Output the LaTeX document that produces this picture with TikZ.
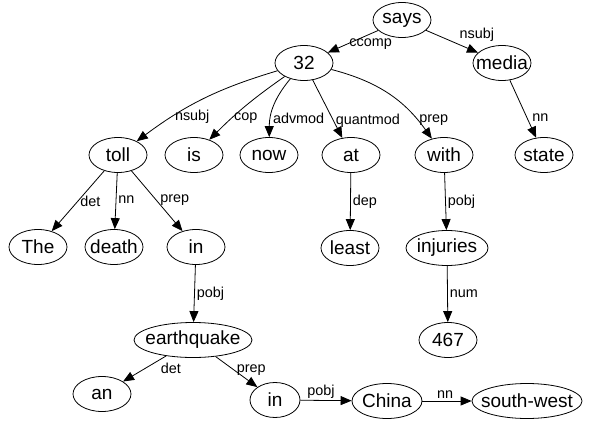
\documentclass[tikz,border=0pt]{standalone}
\usepackage{fontspec}
\setmainfont{Liberation Sans}
\usepackage{tikz}
\usetikzlibrary{shapes.geometric}
\usetikzlibrary{arrows.meta}
\tikzset{
word/.style={ellipse, draw, line width=0.8pt, anchor=center, inner xsep=-8pt, inner ysep=0pt, minimum width=58pt, minimum height=35pt, font=\fontsize{19}{22}\selectfont},
dep_edge/.style={-{Triangle[length=11pt,width=9pt]}, line width=0.8pt},
dep_label/.style={inner sep=2pt, font=\fontsize{14.4}{16}\selectfont}
}

\begin{document}
\begin{tikzpicture}[x=1pt, y=-1pt]
    \useasboundingbox (0,0) rectangle (594,423);
    % words
    \node[word] (w_says) at (402,20) {says};
    \node[word] (w_32) at (304,63) {32};
    \node[word] (w_media) at (502,63) {media};
    \node[word] (w_toll) at (118,155) {toll};
    \node[word] (w_is) at (194,155) {is};
    \node[word] (w_now) at (269,155) {now};
    \node[word] (w_at) at (351,155) {at};
    \node[word] (w_with) at (444,155) {with};
    \node[word] (w_state) at (544,155) {state};
    \node[word] (w_the) at (38,247) {The};
    \node[word] (w_death) at (114,247) {death};
    \node[word] (w_in_1) at (196,247) {in};
    \node[word] (w_least) at (350,248) {least};
    \node[word, minimum width=82pt] (w_injuries) at (447,248) {injuries};
    \node[word, minimum width=118pt] (w_earthquake) at (193,340) {earthquake};
    \node[word] (w_467) at (448,340) {467};
    \node[word] (w_an) at (102,394) {an};
    \node[word, minimum width=50pt] (w_in_2) at (275,400) {in};
    \node[word, minimum width=70pt] (w_china) at (387,401) {China};
    \node[word, minimum width=110pt] (w_southwest) at (527,401) {south-west};
    % dependencies
    \draw[dep_edge] (w_says) -- node[dep_label, pos=0.62, anchor=west] {ccomp} (w_32);
    \draw[dep_edge] (w_says) -- node[dep_label, pos=0.6, anchor=south west] {nsubj} (w_media);
    \draw[dep_edge] (w_media) -- node[dep_label, pos=0.65, anchor=west, xshift=3pt] {nn} (w_state);
    \draw[dep_edge] (w_32) to[bend right=10] node[dep_label, pos=0.74, anchor=west] {nsubj} (w_toll);
    \draw[dep_edge] (w_32) to[bend right=5] node[dep_label, pos=0.7, anchor=west] {cop} (w_is);
    \draw[dep_edge] (w_32) to[bend right=20] node[dep_label, pos=0.72, anchor=west] {advmod} (w_now);
    \draw[dep_edge] (w_32) -- node[dep_label, pos=0.7, anchor=west] {quantmod} (w_at);
    \draw[dep_edge] (w_32) to[bend left=20] node[dep_label, pos=0.82, anchor=west] {prep} (w_with);
    \draw[dep_edge] (w_toll) -- node[dep_label, pos=0.5, anchor=west] {det} (w_the);
    \draw[dep_edge] (w_toll) -- node[dep_label, pos=0.48, anchor=west] {nn} (w_death);
    \draw[dep_edge] (w_toll) -- node[dep_label, pos=0.48, anchor=west, xshift=2pt] {prep} (w_in_1);
    \draw[dep_edge] (w_in_1) -- node[dep_label, pos=0.5, anchor=west] {pobj} (w_earthquake);
    \draw[dep_edge] (w_at) -- node[dep_label, pos=0.5, anchor=west] {dep} (w_least);
    \draw[dep_edge] (w_with) -- node[dep_label, pos=0.5, anchor=west] {pobj} (w_injuries);
    \draw[dep_edge] (w_injuries) -- node[dep_label, pos=0.5, anchor=west] {num} (w_467);
    \draw[dep_edge] (w_earthquake) -- node[dep_label, pos=0.18, anchor=north west] {det} (w_an);
    \draw[dep_edge] (w_earthquake) -- node[dep_label, pos=0.45, anchor=west] {prep} (w_in_2);
    \draw[dep_edge] (w_in_2) -- node[dep_label, pos=0.4, anchor=south] {pobj} (w_china);
    \draw[dep_edge] (w_china) -- node[dep_label, pos=0.46, anchor=south] {nn} (w_southwest);
\end{tikzpicture}
\end{document}
